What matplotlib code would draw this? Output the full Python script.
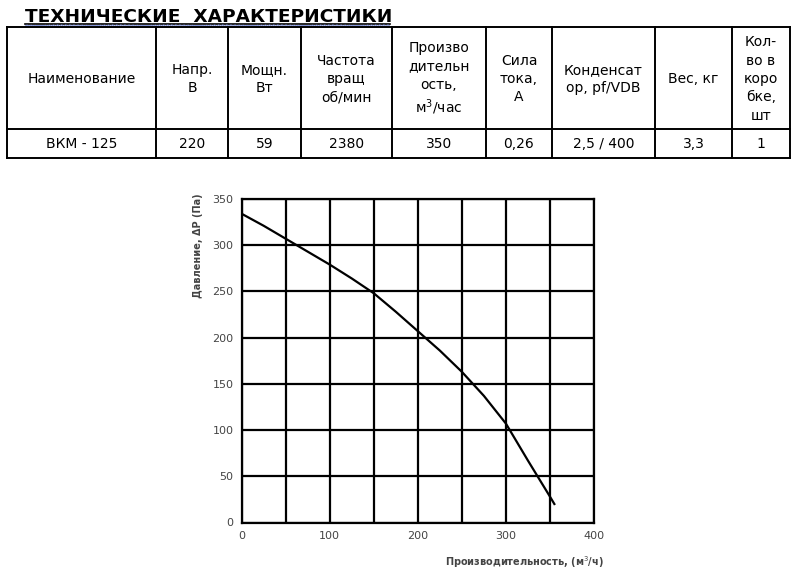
import matplotlib
matplotlib.use("Agg")
import matplotlib.pyplot as plt
import numpy as np

# ─────────────────────────────────────────────
# Data
# ─────────────────────────────────────────────
TITLE = "ТЕХНИЧЕСКИЕ  ХАРАКТЕРИСТИКИ"

headers = ["Наименование", "Напр.\nВ", "Мощн.\nВт", "Частота\nвращ\nоб/мин",
           "Произво\nдительн\nость,\nм$^3$/час", "Сила\nтока,\nА",
           "Конденсат\nор, pf/VDB", "Вес, кг", "Кол-\nво в\nкоро\nбке,\nшт"]
values  = ["ВКМ - 125", "220", "59", "2380", "350", "0,26", "2,5 / 400", "3,3", "1"]

flow     = [0, 25, 50, 75, 100, 125, 150, 175, 200, 225, 250, 275, 300, 325, 350, 355]
pressure = [334, 321, 307, 293, 279, 264, 248, 228, 207, 186, 163, 137, 107, 67, 28, 20]

x_ticks = [0, 100, 200, 300, 400]
y_ticks = [0, 50, 100, 150, 200, 250, 300, 350]

# ─────────────────────────────────────────────
# Layout (pixels)
# ─────────────────────────────────────────────
W, H = 800, 579
col_edges = [7, 156, 228, 301, 392, 486, 552, 655, 732, 790]
row_edges = [27, 129, 158]

fig = plt.figure(figsize=(W / 100, H / 100), dpi=100)
bg = fig.add_axes([0, 0, 1, 1])
bg.set_xlim(0, W); bg.set_ylim(H, 0); bg.axis("off")

# title with underline + spell-check squiggle
bg.text(25, 21.5, TITLE, fontsize=13.3, fontweight="bold", ha="left", va="baseline",
        color="black")
bg.plot([25, 390], [23.5, 23.5], color="black", lw=1.2)
sq_x = np.linspace(25, 390, 180)
bg.plot(sq_x, 25.5 + 0.8 * np.sin(sq_x * 1.6), color="#6a7fd0", lw=0.6)

# table grid
for x in col_edges:
    bg.plot([x, x], [row_edges[0], row_edges[-1]], color="black", lw=1.4)
for y in row_edges:
    bg.plot([col_edges[0], col_edges[-1]], [y, y], color="black", lw=1.4)

for i in range(len(headers)):
    cx = (col_edges[i] + col_edges[i + 1]) / 2
    bg.text(cx, (row_edges[0] + row_edges[1]) / 2 + 1, headers[i], fontsize=10,
            ha="center", va="center", linespacing=1.4, multialignment="center")
    bg.text(cx, (row_edges[1] + row_edges[2]) / 2, values[i], fontsize=10,
            ha="center", va="center")

# ─────────────────────────────────────────────
# Fan curve
# ─────────────────────────────────────────────
ax = fig.add_axes([241.7 / W, 1 - 522.5 / H, (594 - 241.7) / W, (522.5 - 199) / H])
ax.plot(flow, pressure, color="black", lw=1.6, zorder=3)
ax.set_xlim(0, 400); ax.set_ylim(0, 350)
ax.set_xticks(np.arange(0, 401, 50))
ax.set_yticks(y_ticks)
ax.set_xticklabels([str(v) if v in x_ticks else "" for v in np.arange(0, 401, 50)])
ax.grid(True, color="black", lw=1.6)
for s in ax.spines.values():
    s.set_linewidth(1.6)
ax.tick_params(length=0, labelsize=8, labelcolor="#444", pad=6)

fig.text(604 / W, 1 - 562 / H, "Производительность, (м$^3$/ч)", ha="right",
         va="center", fontsize=7, fontweight="bold", color="#444")
fig.text(198 / W, 1 - 193 / H, "Давление, ΔP (Па)", ha="center", va="top",
         rotation=90, fontsize=7, fontweight="bold", color="#444")

plt.savefig("out.png", dpi=100)
